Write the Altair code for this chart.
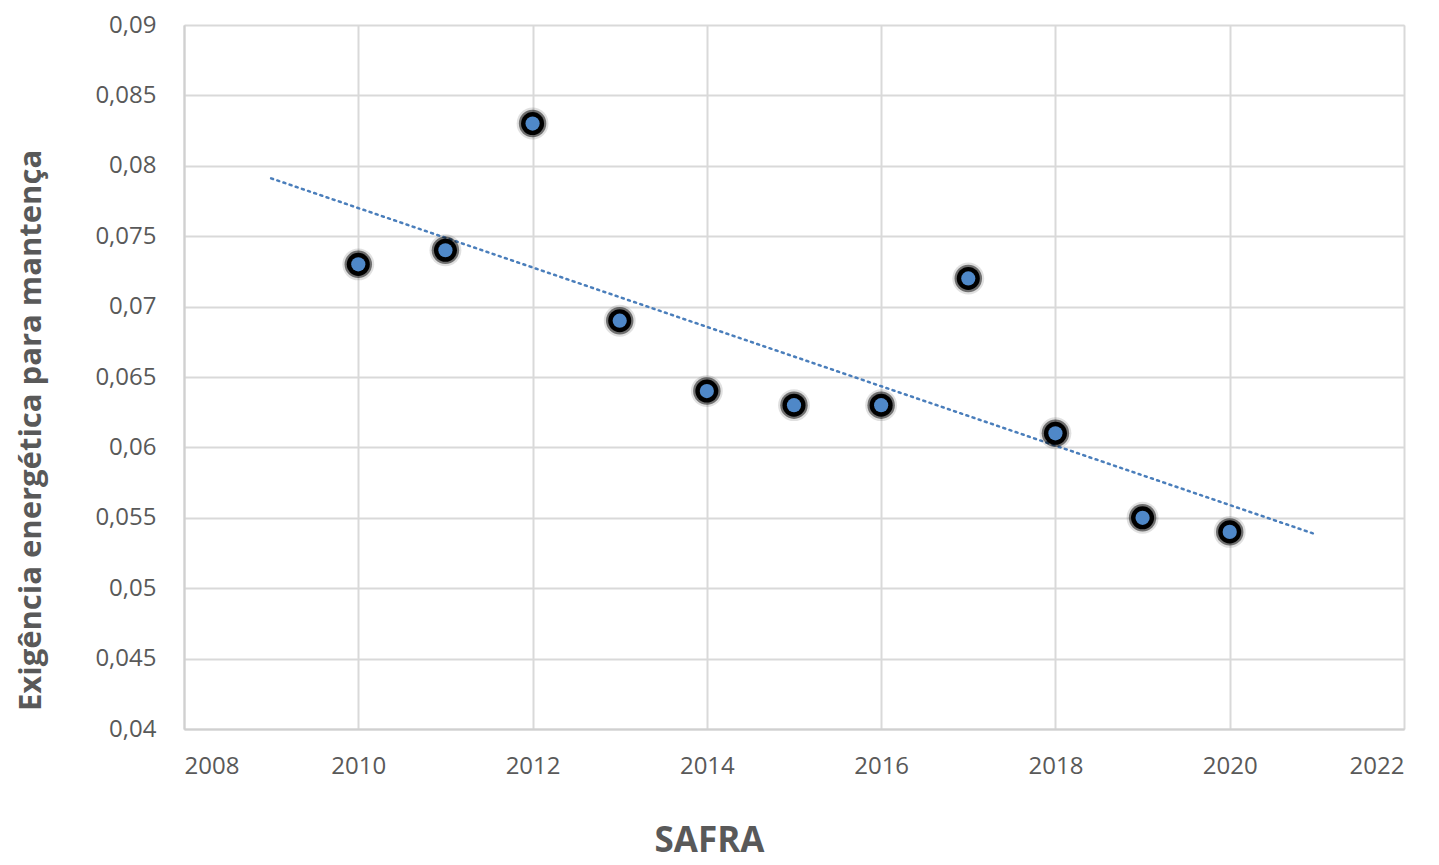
import altair as alt
import pandas as pd
import math

safra = [2010, 2011, 2012, 2013, 2014, 2015, 2016, 2017, 2018, 2019, 2020]
exigencia = [0.073, 0.074, 0.083, 0.069, 0.064, 0.063, 0.063, 0.072, 0.061, 0.055, 0.054]
x_ticks = [2008, 2010, 2012, 2014, 2016, 2018, 2020, 2022]
y_ticks = [0.04, 0.045, 0.05, 0.055, 0.06, 0.065, 0.07, 0.075, 0.08, 0.085, 0.09]

df = pd.DataFrame({"safra": safra, "valor": exigencia})

FONT = "Open Sans"
GRAY = "#595959"

def area(d):
    return math.pi * d * d / 4

x = alt.X("safra:Q",
          scale=alt.Scale(domain=[2008, 2022], nice=False, zero=False),
          axis=alt.Axis(values=x_ticks, format="d", title="SAFRA",
                        labelFontSize=24, labelColor=GRAY, labelFont=FONT,
                        labelPadding=25, ticks=False,
                        titleFontSize=35, titleFont=FONT, titleColor=GRAY,
                        titleFontWeight="bold", titlePadding=45, titleX=525,
                        domainColor="#d0d0d0", domainWidth=2,
                        gridColor="#d9d9d9", gridWidth=2))
y = alt.Y("valor:Q",
          scale=alt.Scale(domain=[0.04, 0.09], nice=False, zero=False),
          axis=alt.Axis(values=y_ticks, title="Exigência energética para mantença",
                        labelExpr="replace(toString(datum.value), '.', ',')",
                        labelFontSize=24, labelColor=GRAY, labelFont=FONT,
                        labelPadding=28, ticks=False,
                        titleFontSize=31, titleFont=FONT, titleColor=GRAY,
                        titleFontWeight="bold", titlePadding=47, titleY=405,
                        domainColor="#d0d0d0", domainWidth=2,
                        gridColor="#d9d9d9", gridWidth=2))

base = alt.Chart(df)

trend = base.transform_regression("safra", "valor", extent=[2009, 2021]).mark_line(
    color="#4a7ebb", strokeWidth=2.5, strokeDash=[2, 4.5], strokeCap="round"
).encode(x=x, y=y)

glow1 = base.mark_circle(color="black", opacity=0.12, size=area(36)).encode(x=x, y=y)
glow2 = base.mark_circle(color="black", opacity=0.5, size=area(31)).encode(x=x, y=y)
ring = base.mark_circle(color="black", opacity=1, size=area(26)).encode(x=x, y=y)
dot = base.mark_circle(color="#4f88c8", opacity=1, size=area(16)).encode(x=x, y=y)

chart = alt.layer(trend, glow1, glow2, ring, dot).properties(
    width=1220, height=704,
    padding={"top": 5, "left": 7, "right": 20, "bottom": 2}
).configure_view(stroke=None).configure(background="white")

chart.save("out.html", embed_options={"renderer": "svg", "actions": False})
